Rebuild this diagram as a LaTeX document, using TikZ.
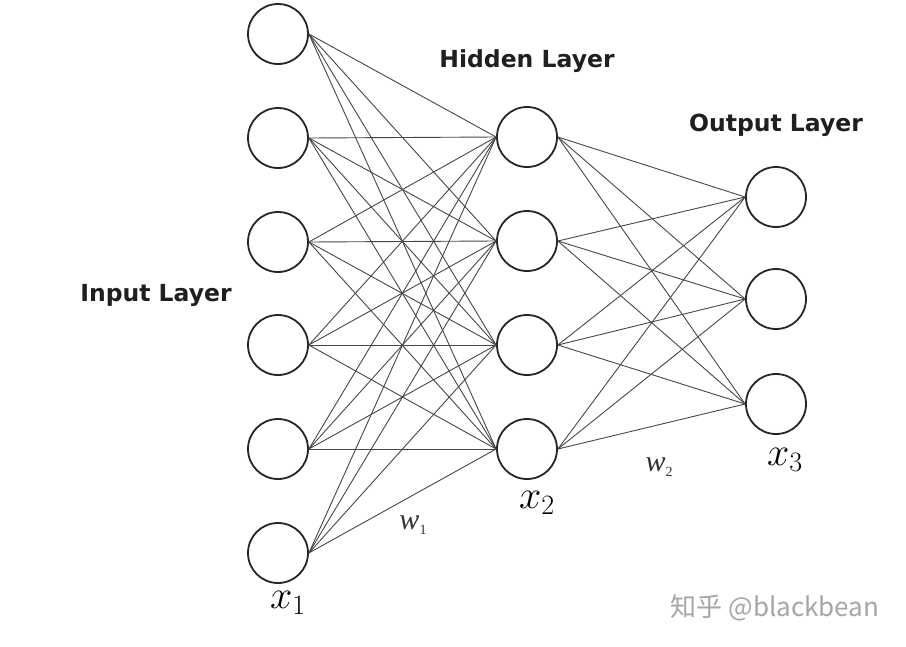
\RequirePackage{fix-cm}
\documentclass[tikz,border=0pt]{standalone}
\usepackage{fontspec}
\setmainfont{Liberation Serif}
\newfontfamily\labfont{DejaVu Sans}
\newfontfamily\cjkfont{Noto Sans CJK SC}
\begin{document}
\begin{tikzpicture}[x=1pt,y=-1pt,
  neuron/.style={circle,draw=black!85,line width=1.8pt,minimum size=60pt,inner sep=0pt},
  edge/.style={draw=black!72,line width=0.9pt},
  layerlabel/.style={font=\labfont\bfseries\fontsize{23.5}{26}\selectfont,text=black!88},
  xlab/.style={font=\fontsize{40}{42}\selectfont},
  wlab/.style={font=\fontsize{30}{32}\selectfont,text=black!80}]
\useasboundingbox (0,0) rectangle (906,646);
\fill[white] (0,0) rectangle (906,646);
% input layer
\foreach \i/\y in {1/34,2/138,3/242,4/345,5/449,6/553}
  \node[neuron] (i\i) at (278,\y) {};
% hidden layer
\foreach \j/\y in {1/137,2/241,3/345,4/449}
  \node[neuron] (h\j) at (527,\y) {};
% output layer
\foreach \k/\y in {1/197,2/299,3/404}
  \node[neuron] (o\k) at (776,\y) {};
% connections
\foreach \i in {1,...,6}
  \foreach \j in {1,...,4}
    \draw[edge] (i\i.east) -- (h\j.west);
\foreach \j in {1,...,4}
  \foreach \k in {1,...,3}
    \draw[edge] (h\j.east) -- (o\k.west);
% labels
\node[layerlabel] (lh) at (527,61) {Hidden Layer};
\node[layerlabel] (lo) at (776,125) {Output Layer};
\node[layerlabel] (li) at (156,295) {Input Layer};
\node[xlab] (x1) at (288,603) {$x_1$};
\node[xlab] (x2) at (537,503) {$x_2$};
\node[xlab] (x3) at (785,460) {$x_3$};
\node[wlab] (w1) at (413,525) {\textit{w}\raisebox{-0.35ex}{\fontsize{14}{14}\selectfont 1}};
\node[wlab] (w2) at (659,467) {\textit{w}\raisebox{-0.35ex}{\fontsize{14}{14}\selectfont 2}};
\node[font=\cjkfont\fontsize{26}{28}\selectfont,text=black!35] (wm) at (775,608) {知乎 @blackbean};
\end{tikzpicture}
\end{document}
